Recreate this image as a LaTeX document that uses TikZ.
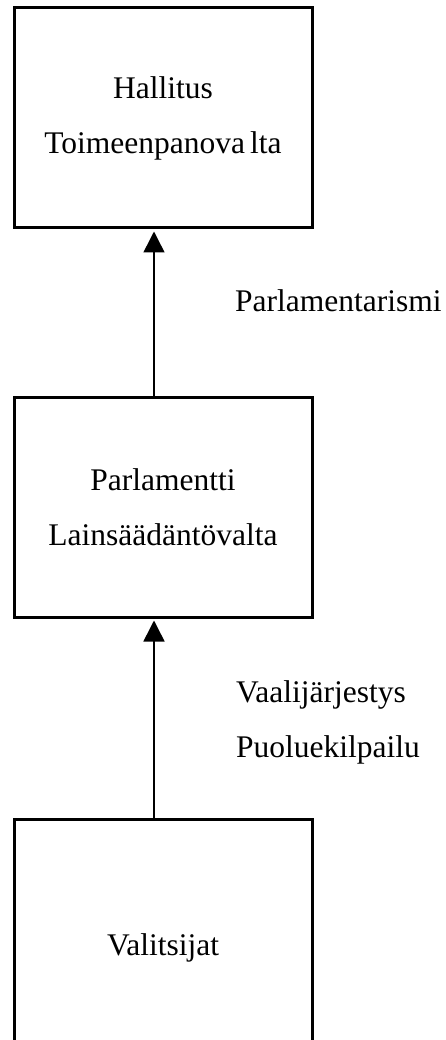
\documentclass[tikz,border=0pt]{standalone}
\usepackage{fontspec}
\setmainfont{Liberation Serif}
\usetikzlibrary{arrows.meta}

\begin{document}
\begin{tikzpicture}[
    x=1pt, y=-1pt,
    box/.style={rectangle, draw, line width=3pt, minimum width=298pt, minimum height=220pt, align=center, inner sep=0pt,
        font=\fontsize{31.5}{55}\selectfont},
    label/.style={align=left, inner sep=0pt, font=\fontsize{31.5}{55}\selectfont},
    arrow/.style={-{Triangle[width=21pt,length=21pt]}, line width=1.5pt, shorten >=2pt}
]
\clip (0,0) rectangle (446,1040);

\node[box] (hallitus) at (163,118) {Hallitus\\Toimeenpanova\kern5pt lta};
\node[box] (parlamentti) at (163,507) {Parlamentti\\Lainsäädäntövalta};
\node[box, minimum height=258pt] (valitsijat) at (163,948) {Valitsijat};

\node[label, anchor=base west] (parl) at (235,312) {Parlamentarismi};
\node[label, anchor=west] (vaali) at (236,722) {Vaalijärjestys\\Puoluekilpailu};

% arrows sit a bit left of the box centres
\draw[arrow] ([xshift=-9pt]parlamentti.north) -- ([xshift=-9pt]hallitus.south);
\draw[arrow] ([xshift=-9pt]valitsijat.north) -- ([xshift=-9pt]parlamentti.south);

\end{tikzpicture}
\end{document}
